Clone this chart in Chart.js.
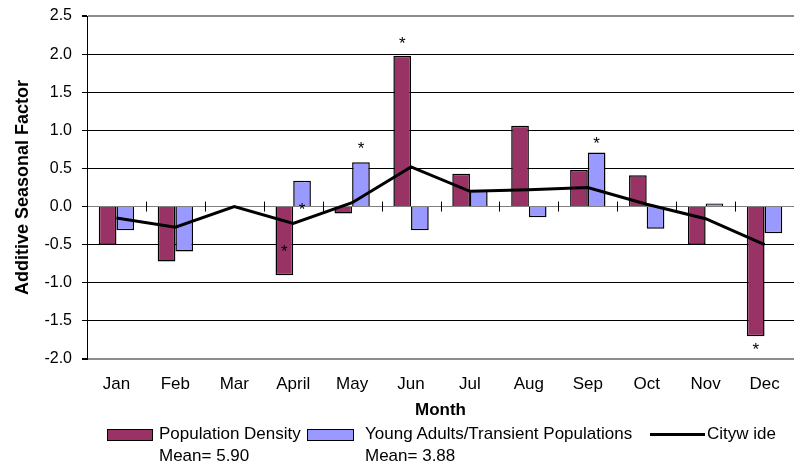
<!DOCTYPE html>
<html>
<head>
<meta charset="utf-8">
<script src="https://cdn.jsdelivr.net/npm/chart.js@4.4.1/dist/chart.umd.min.js"></script>
<style>
html,body{margin:0;padding:0;background:#fff;}
#wrap{position:relative;width:794px;height:468px;overflow:hidden;font-family:"Liberation Sans",Arial,sans-serif;}
#wrap canvas{position:absolute;left:0;top:0;}
.lg{position:absolute;font-size:17px;line-height:22px;color:#000;white-space:nowrap;}
.sw{position:absolute;box-sizing:border-box;border:1px solid #000;}
.ln{position:absolute;height:3px;background:#000;}
</style>
</head>
<body>
<div id="wrap"><canvas id="c" width="794" height="468"></canvas></div>
<script>
// ---- data ----
const months = ["Jan","Feb","Mar","April","May","Jun","Jul","Aug","Sep","Oct","Nov","Dec"];
const populationDensity = [-0.50,-0.72,0.00,-0.90,-0.09,1.98,0.43,1.06,0.48,0.41,-0.50,-1.70];
const youngAdults = [-0.31,-0.59,0.00,0.34,0.58,-0.31,0.21,-0.14,0.71,-0.29,0.04,-0.35];
const citywide = [-0.15,-0.27,0.00,-0.22,0.05,0.52,0.20,0.22,0.25,0.03,-0.16,-0.50];
// significance asterisks (value-axis location of each "*", null = none)
const densityStars = [null,null,null,-0.58,null,2.15,null,null,null,null,null,-1.86];
const youngStars = [null,null,null,-0.03,0.78,null,null,null,0.84,null,null,null];
const seriesNames = ["Population Density","Young Adults/Transient Populations","Cityw ide"];
const seriesMeans = ["Mean= 5.90","Mean= 3.88",null];
const yTicks = [-2.0,-1.5,-1.0,-0.5,0.0,0.5,1.0,1.5,2.0,2.5];

const FONT = "'Liberation Sans', Arial, sans-serif";
Chart.defaults.font.family = FONT;
Chart.defaults.color = '#000';

const PURPLE = '#993366', BLUE = '#9999FF';

const extras = {
  id: 'extras',
  beforeDatasetsDraw(chart) {
    const {ctx, scales: {x, y}} = chart;
    const y0 = y.getPixelForValue(0);
    ctx.save();
    ctx.strokeStyle = '#000';
    ctx.lineWidth = 1;
    const n = months.length;
    for (let i = 0; i <= n; i++) {
      let px;
      if (i === 0) px = chart.chartArea.left;
      else if (i === n) px = chart.chartArea.right;
      else px = (x.getPixelForValue(i - 1) + x.getPixelForValue(i)) / 2;
      px = Math.round(px) + 0.5;
      ctx.beginPath();
      ctx.moveTo(px, y0 - 5);
      ctx.lineTo(px, y0 + 5);
      ctx.stroke();
    }
    ctx.restore();
  },
  afterDatasetsDraw(chart) {
    const {ctx, scales: {y}} = chart;
    const fs = 17;
    ctx.save();
    ctx.fillStyle = '#000';
    ctx.font = fs + 'px ' + FONT;
    ctx.textAlign = 'center';
    ctx.textBaseline = 'alphabetic';
    [[0, densityStars], [1, youngStars]].forEach(([di, stars]) => {
      const meta = chart.getDatasetMeta(di);
      stars.forEach((v, i) => {
        if (v === null) return;
        const el = meta.data[i];
        ctx.fillText('*', el.x, y.getPixelForValue(v) + 0.38 * fs);
      });
    });
    ctx.restore();
  }
};

new Chart(document.getElementById('c'), {
  data: {
    labels: months,
    datasets: [
      {type: 'bar', label: seriesNames[0], data: populationDensity, backgroundColor: PURPLE,
       borderColor: '#000', borderWidth: 1.5, order: 1},
      {type: 'bar', label: seriesNames[1], data: youngAdults, backgroundColor: BLUE,
       borderColor: '#000', borderWidth: 1.5, order: 2},
      {type: 'line', label: seriesNames[2], data: citywide, borderColor: '#000', borderWidth: 3,
       pointRadius: 0, tension: 0, fill: false, order: 0}
    ]
  },
  options: {
    responsive: false,
    animation: false,
    devicePixelRatio: 1,
    categoryPercentage: 0.6,
    barPercentage: 1.0,
    layout: {padding: {top: 16, right: 0, bottom: 47, left: 0}},
    plugins: {legend: {display: false}, tooltip: {enabled: false}},
    scales: {
      x: {
        offset: true,
        grid: {display: false, drawTicks: false},
        border: {display: false},
        ticks: {font: {size: 17}, padding: 15, color: '#000', maxRotation: 0, autoSkip: false},
        title: {display: true, text: 'Month', font: {size: 17, weight: 'bold'}, padding: 0, color: '#000'},
        afterFit(s) { s.height = 62; s.paddingLeft = 0; s.paddingRight = 0; }
      },
      y: {
        min: -2.0, max: 2.5,
        afterBuildTicks(s) { s.ticks = yTicks.map(v => ({value: v})); },
        ticks: {font: {size: 16}, padding: 10, color: '#000', callback: v => Number(v).toFixed(1)},
        grid: {
          color: c => (c.tick && (c.tick.value === 2.5 || c.tick.value === -2)) ? '#8c8c8c' : (c.tick && c.tick.value === 0 ? '#808080' : '#000'),
          lineWidth: c => (c.tick && (c.tick.value === 2.5 || c.tick.value === -2)) ? 2 : 1,
          tickColor: '#000',
          tickLength: 5,
          drawTicks: true
        },
        border: {display: true, color: '#000', width: 1},
        title: {display: true, text: 'Additive Seasonal Factor', font: {size: 18, weight: 'bold'}, padding: {top: 12, bottom: 0}, color: '#000'},
        afterFit(s) { s.width = 87; s.paddingTop = 0; s.paddingBottom = 0; }
      }
    }
  },
  plugins: [extras]
});

// ---- legend (HTML text) ----
const wrap = document.getElementById('wrap');
function add(cls, style, text) {
  const d = document.createElement('div');
  d.className = cls;
  Object.assign(d.style, style);
  if (text !== undefined) d.innerHTML = text;
  wrap.appendChild(d);
  return d;
}
add('sw', {left: '107px', top: '429px', width: '46px', height: '12px', background: PURPLE});
add('lg', {left: '159px', top: '423px'}, seriesNames[0] + '<br>' + seriesMeans[0]);
add('sw', {left: '307px', top: '429px', width: '47px', height: '12px', background: BLUE});
add('lg', {left: '365px', top: '423px'}, seriesNames[1] + '<br>' + seriesMeans[1]);
add('ln', {left: '650px', top: '433px', width: '55px'});
add('lg', {left: '707px', top: '423px'}, seriesNames[2]);
</script>
</body>
</html>
